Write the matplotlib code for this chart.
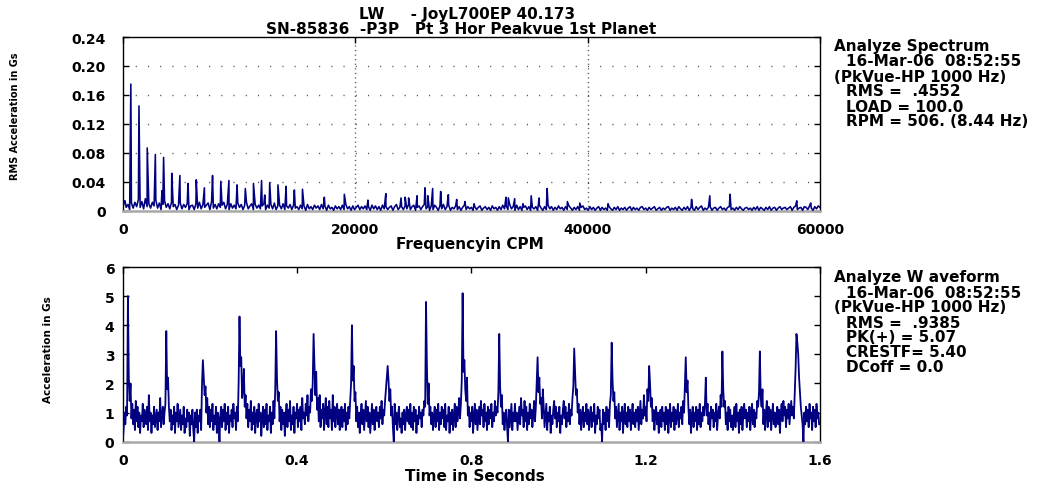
import numpy as np
import matplotlib
matplotlib.use("Agg")
import matplotlib.pyplot as plt

# ---------------- data ----------------
# Spectrum noise floor, milli-g, one value every 150 CPM from 0 to 60000 CPM
spec_floor_mg = [
    3,14,5,9,2,11,4,12,6,16,5,13,3,17,6,10,4,12,7,15,
    4,11,2,9,14,5,10,3,12,6,9,2,8,11,3,9,5,10,2,7,
    8,2,10,4,12,3,9,5,8,11,2,13,4,9,3,10,5,8,12,3,
    9,2,10,4,8,3,11,5,9,2,8,12,3,7,10,2,9,4,8,3,
    7,10,2,8,4,9,3,11,2,7,8,3,10,2,7,4,9,2,8,4,
    6,2,8,3,7,1,9,3,6,2,8,4,7,2,9,3,7,1,8,3,
    5,1,7,3,6,2,8,2,9,3,6,1,7,2,5,8,2,6,3,7,
    2,6,1,8,3,7,2,6,1,8,3,6,2,5,7,1,6,9,2,5,
    6,2,7,3,9,2,6,8,1,5,7,2,6,9,3,6,1,7,2,8,
    5,1,7,3,9,2,6,8,1,5,3,7,2,6,1,5,8,2,6,3,
    5,1,6,2,5,7,1,4,6,2,5,1,7,3,5,1,6,2,8,3,
    7,2,9,3,6,1,8,2,6,1,5,7,2,6,1,5,3,6,1,8,
    4,1,6,2,8,3,6,1,5,2,7,3,5,1,6,2,7,4,1,5,
    2,6,1,5,7,2,4,1,6,2,5,1,4,6,1,5,2,4,1,6,
    3,1,5,2,6,1,4,2,5,1,4,6,1,5,2,4,1,5,6,2,
    4,1,5,2,4,6,1,3,5,1,4,2,5,6,1,4,2,5,1,6,
    3,1,5,2,6,1,5,3,1,6,2,5,7,1,4,2,5,6,1,4,
    5,1,4,6,2,4,1,5,6,2,4,1,5,2,6,3,1,4,5,2,
    4,1,5,2,6,1,5,3,1,5,2,6,1,4,5,1,4,6,2,4,
    5,2,4,6,1,5,7,2,4,5,1,6,5,2,7,4,1,6,3,7,
    5,
]
spec_floor_step_cpm = 150

# Harmonic peaks (CPM, g)
harm_freq = [700, 1400, 2110, 2810, 3520, 4220, 4920, 5620, 6330, 7030, 7730,
             8440, 9140, 9840, 10550, 11250, 11950, 12650, 13360, 14060, 14770, 15470]
harm_amp = [0.175, 0.145, 0.087, 0.078, 0.074, 0.052, 0.049, 0.038, 0.043, 0.032, 0.049,
            0.041, 0.042, 0.036, 0.031, 0.038, 0.042, 0.039, 0.036, 0.034, 0.029, 0.030]

# Other spectral lines (CPM, g)
other_freq = [200, 3380, 12220, 17350, 19070, 21100, 22640, 23950, 24300, 24600, 25330,
              26010, 26250, 26670, 27360, 28020, 28740, 29450, 30230, 32980, 33180,
              33730, 34440, 35150, 35840, 36520, 38260, 39330, 41760, 48950, 50520,
              52260, 58000, 59200]
other_amp = [0.014, 0.028, 0.022, 0.019, 0.023, 0.015, 0.024, 0.018, 0.019, 0.018, 0.021,
             0.032, 0.021, 0.031, 0.027, 0.0225, 0.016, 0.013, 0.010, 0.019, 0.018,
             0.017, 0.010, 0.021, 0.018, 0.031, 0.013, 0.011, 0.010, 0.016, 0.021,
             0.023, 0.014, 0.011]

# Waveform, tenths of g, one sample every 0.002 s (rows of 0.1 s)
wave_tenths_g = [
    0,4,10,6,12,9,50,22,14,20, 8,13,6,11,4,14,7,12,5,10, 3,9,7,13,5,11,8,6,12,4,
    16,7,10,3,9,6,12,5,8,11, 4,10,7,15,5,9,12,6,10,13,
    38,18,22,12,7,11,4,9,6,12, 3,10,7,13,5,8,11,4,9,6, 12,3,8,5,11,7,10,2,9,6,
    11,4,0,10,5,11,3,9,7,11, 4,20,28,22,16,19,10,15,6,12,
    5,11,7,13,4,9,6,12,3,10, 8,0,9,12,5,11,7,13,4,10, 6,12,3,9,7,11,5,13,8,10,
    4,12,7,20,43,26,29,15,18,25, 12,16,8,13,5,11,7,14,4,10,
    6,12,3,9,11,5,13,7,10,2, 8,12,5,11,6,13,4,9,7,12, 3,10,6,14,8,18,38,22,14,17,
    7,12,4,11,6,10,2,9,13,5, 11,7,14,4,9,6,12,3,10,8,
    13,5,11,7,12,4,15,8,10,6, 13,9,16,7,12,10,18,14,20,37, 27,16,24,11,15,7,16,5,11,8,
    13,4,10,15,6,12,5,14,8,11, 4,16,7,12,5,10,13,6,11,4,
    9,12,5,11,7,13,4,10,6,12, 8,14,20,40,21,26,14,17,7,12, 5,10,3,9,13,6,11,4,9,14,
    7,12,5,10,3,8,13,6,11,4, 9,12,7,10,5,12,8,14,6,11,
    9,14,18,22,26,21,14,18,9,12, 5,0,13,6,10,4,9,12,5,8, 3,10,6,11,4,9,12,7,11,6,
    13,5,10,4,12,7,11,3,9,6, 12,8,10,5,11,9,14,12,48,26,
    13,20,9,12,6,10,4,9,12,5, 11,7,13,4,10,6,12,8,11,5, 13,4,9,7,12,3,10,6,11,4,
    9,13,5,12,7,10,15,8,13,21, 51,24,28,18,14,22,9,12,5,10,
    7,12,3,9,13,6,11,4,8,12, 6,14,9,11,5,13,7,10,4,12, 6,11,8,13,5,10,7,14,9,12,
    10,17,37,19,12,16,6,10,4,9, 11,5,0,11,5,9,13,4,10,7,
    13,7,10,4,8,12,6,15,9,11, 5,14,7,12,4,10,6,13,8,11, 5,9,14,7,12,20,29,17,22,13,
    15,8,18,12,5,9,13,4,10,7, 12,3,9,6,11,14,8,12,5,10,
    7,12,3,9,6,11,14,8,12,5, 10,7,13,6,11,9,15,19,32,24, 16,18,10,13,6,11,4,9,12,5,
    10,7,13,6,11,4,9,12,5,10, 7,13,3,9,6,12,8,11,4,6,
    0,11,6,10,4,12,7,11,5,13, 16,34,21,14,17,8,12,5,9,13, 4,10,7,12,3,9,13,6,10,5,
    12,7,11,4,9,13,6,10,5,11, 7,12,4,9,14,6,11,8,16,9,
    12,7,18,14,26,20,12,15,7,11, 4,9,12,6,10,3,8,11,5,12, 7,10,4,12,6,11,3,9,13,5,
    10,7,12,4,11,6,9,13,5,10, 8,12,6,14,10,19,29,17,21,12,
    6,11,3,9,12,5,10,7,12,4, 11,6,13,5,10,7,12,9,13,22, 9,13,6,10,4,12,8,11,5,10,
    7,13,4,9,12,8,16,12,31,18, 12,14,6,10,4,12,7,11,5,9,
    4,9,12,5,13,7,10,3,11,6, 12,4,9,13,8,11,5,10,7,12, 4,9,13,6,11,5,10,8,14,12,
    17,31,15,12,18,6,11,4,10,14, 5,12,7,11,4,9,13,6,10,5,
    9,12,6,11,3,10,13,7,14,9, 12,5,11,8,13,6,10,14,9,12, 8,16,25,37,34,30,22,17,12,9,
    6,0,10,6,12,7,11,5,13,8, 10,4,12,7,11,5,13,8,10,6,
]
wave_step_s = 0.002

# ---------------- figure ----------------
W, H = 1044, 489
fig = plt.figure(figsize=(W / 100, H / 100), dpi=100)
plt.rcParams['font.family'] = ['DejaVu Sans']
plt.rcParams['font.weight'] = 'bold'
NAVY = '#000080'
FS = 10      # tick labels
FT = 11      # other text


def fx(px):
    return px / W


def fy(py):
    return 1 - py / H


def style_axes(ax):
    for s in ['left', 'top', 'right']:
        ax.spines[s].set_color('black')
        ax.spines[s].set_linewidth(1.0)
    ax.spines['bottom'].set_color('#a8a8a8')
    ax.spines['bottom'].set_linewidth(1.8)
    ax.tick_params(direction='in', length=4, width=1.0, top=True, right=True,
                   labelsize=FS, labelcolor='black')
    ax.tick_params(axis='x', bottom=False, pad=8)
    for lab in ax.get_xticklabels() + ax.get_yticklabels():
        lab.set_fontweight('bold')


# --- spectrum ---
ax1 = fig.add_axes([fx(122.7), fy(212), fx(820) - fx(122.7), fy(38) - fy(212)])
floor_f = np.arange(len(spec_floor_mg)) * spec_floor_step_cpm
floor_a = np.array(spec_floor_mg) * 0.001
all_f = np.concatenate([floor_f, harm_freq, other_freq])
all_a = np.concatenate([floor_a, harm_amp, other_amp])
order = np.argsort(all_f, kind='stable')
ax1.plot(all_f[order], all_a[order], color=NAVY, lw=1.15, zorder=3)
ax1.set_xlim(0, 60000)
ax1.set_ylim(0, 0.24)
ax1.set_xticks([0, 20000, 40000, 60000])
ax1.set_xticklabels(['0', '20000', '40000', '60000'])
ax1.set_yticks([0, 0.04, 0.08, 0.12, 0.16, 0.20, 0.24])
ax1.set_yticklabels(['0', '0.04', '0.08', '0.12', '0.16', '0.20', '0.24'])
for y in [0.04, 0.08, 0.12, 0.16, 0.20]:
    ax1.axhline(y, color='#505050', lw=1.0, ls=(0, (0.8, 8)), zorder=1)
for x in [20000, 40000]:
    ax1.axvline(x, color='#505050', lw=1.0, ls=(0, (0.8, 2.5)), zorder=1)
style_axes(ax1)
ax1.tick_params(axis='y', pad=12)

# --- waveform ---
ax2 = fig.add_axes([fx(122.7), fy(442.7), fx(820) - fx(122.7), fy(268) - fy(442.7)])
t = np.arange(len(wave_tenths_g)) * wave_step_s
ax2.plot(t, np.array(wave_tenths_g) * 0.1, color=NAVY, lw=1.3, zorder=3)
ax2.set_xlim(0, 1.6)
ax2.set_ylim(0, 6)
ax2.set_xticks([0, 0.4, 0.8, 1.2, 1.6])
ax2.set_xticklabels(['0', '0.4', '0.8', '1.2', '1.6'])
ax2.set_yticks([0, 1, 2, 3, 4, 5, 6])
ax2.set_yticklabels(['0', '1', '2', '3', '4', '5', '6'])
style_axes(ax2)
ax2.tick_params(axis='y', pad=6)

# --- titles & labels ---
fig.text(fx(467), fy(14), 'LW     - JoyL700EP 40.173', ha='center', va='center',
         fontsize=FT, fontweight='bold')
fig.text(fx(461), fy(29), 'SN-85836  -P3P   Pt 3 Hor Peakvue 1st Planet', ha='center',
         va='center', fontsize=FT, fontweight='bold')
fig.text(fx(470), fy(245), 'Frequencyin CPM', ha='center', va='center',
         fontsize=FT, fontweight='bold')
fig.text(fx(475), fy(477), 'Time in Seconds', ha='center', va='center',
         fontsize=FT, fontweight='bold')
fig.text(fx(15), fy(116), 'RMS Acceleration in Gs', rotation=90, ha='center',
         va='center', fontsize=7, fontweight='bold')
fig.text(fx(48), fy(350), 'Acceleration in Gs', rotation=90, ha='center',
         va='center', fontsize=7.5, fontweight='bold')

spec_info = [(834, 47, 'Analyze Spectrum'), (846, 62, '16-Mar-06  08:52:55'),
             (834, 77, '(PkVue-HP 1000 Hz)'), (846, 92, 'RMS =  .4552'),
             (846, 108, 'LOAD = 100.0'), (846, 122, 'RPM = 506. (8.44 Hz)')]
wave_info = [(834, 278, 'Analyze W aveform'), (846, 293, '16-Mar-06  08:52:55'),
             (834, 308, '(PkVue-HP 1000 Hz)'), (846, 323, 'RMS =  .9385'),
             (846, 338, 'PK(+) = 5.07'), (846, 353, 'CRESTF= 5.40'),
             (846, 368, 'DCoff = 0.0')]
for x, y, s in spec_info + wave_info:
    fig.text(fx(x), fy(y), s, ha='left', va='center', fontsize=FT, fontweight='bold')

fig.savefig('out.png', dpi=100)
